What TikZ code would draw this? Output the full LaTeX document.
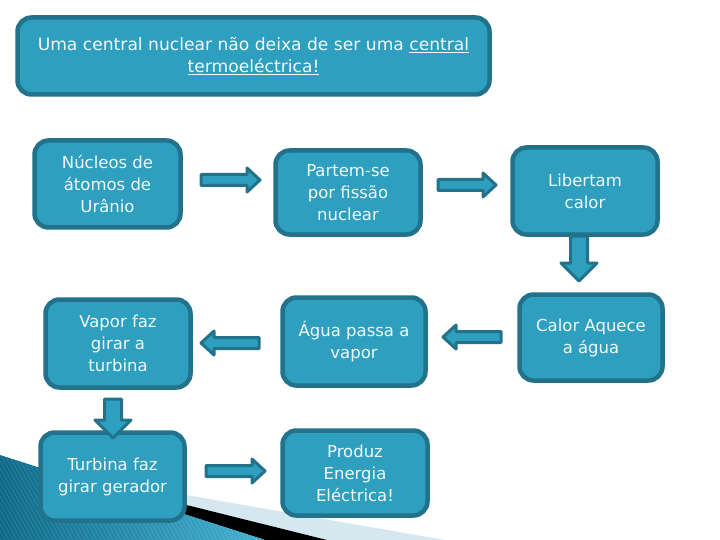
\documentclass[tikz,border=0pt]{standalone}
\usepackage{fontspec}
\setmainfont{DejaVu Sans}
\newfontfamily\condfont[FakeStretch=1.12]{DejaVu Sans Condensed}
\definecolor{boxfill}{HTML}{2E9FBF}
\definecolor{boxline}{HTML}{21728A}
\definecolor{boxtext}{HTML}{F2FAFC}
\definecolor{bgdark}{HTML}{0E6A88}
\definecolor{bglight}{HTML}{45B2D4}
\definecolor{bandlight}{HTML}{D5E7EF}
\tikzset{
  box/.style={draw=boxline, fill=boxfill, line width=4.5pt, rounded corners=14pt,
    text=boxtext, align=center, inner sep=0pt,
    font=\fontsize{16.5}{22}\selectfont},
  arr/.style={draw=boxline, fill=boxfill, line width=3pt, line join=round},
  pics/harrow/.style={code={
    \draw[arr] (0,-5.5) -- (#1-13,-5.5) -- (#1-13,-12) -- (#1,0) -- (#1-13,12)
      -- (#1-13,5.5) -- (0,5.5) -- cycle;}},
  pics/varrow/.style={code={
    \draw[arr] (0,-8.5) -- (#1-18,-8.5) -- (#1-18,-18) -- (#1,0) -- (#1-18,18)
      -- (#1-18,8.5) -- (0,8.5) -- cycle;}}
}
\begin{document}
\begin{tikzpicture}[x=1pt,y=-1pt]
\useasboundingbox (0,0) rectangle (720,540);
% background decoration
\fill[bandlight] (54,472) -- (445,540) -- (327,540) -- cycle;
\fill[black] (46,470) -- (327,540) -- (265,540) -- cycle;
\begin{scope}
  \clip (0,455) -- (265,540) -- (0,540) -- cycle;
  \shade[shading angle=60, left color=bgdark, right color=bglight] (0,450) rectangle (270,540);
  \foreach \i in {0,4,...,360} \draw[white, opacity=0.12, line width=0.7pt] (\i-60,440) -- (\i,545);
\end{scope}
% boxes
\node[box, minimum width=472pt, minimum height=77pt,
  font=\condfont\fontsize{17}{22}\selectfont] (title) at (253.5,56)
  {Uma central nuclear não deixa de ser uma \underline{central}\\\underline{termoeléctrica!}};
\node[box, minimum width=146pt, minimum height=87pt] (a) at (107.5,184) {Núcleos de\\átomos de\\Urânio};
\node[box, minimum width=145pt, minimum height=84pt] (b) at (348,192.5) {Partem-se\\por fissão\\nuclear};
\node[box, minimum width=145pt, minimum height=87pt] (c) at (585,191) {Libertam\\calor};
\node[box, minimum width=143pt, minimum height=86pt] (d) at (591,337.5) {Calor Aquece\\a água};
\node[box, minimum width=145pt, minimum height=88pt] (e) at (118,343.5) {Vapor faz\\girar a\\turbina};
\node[box, minimum width=143pt, minimum height=88pt] (f) at (354,341.5) {Água passa a\\vapor};
\node[box, minimum width=144pt, minimum height=88pt] (g) at (112.5,476.5) {Turbina faz\\girar gerador};
\node[box, minimum width=145pt, minimum height=85pt] (h) at (355,473) {Produz\\Energia\\Eléctrica!};
% block arrows
\pic at (201,180) {harrow=59};
\pic at (438,185) {harrow=58};
\pic[rotate=-90] at (579,236) {varrow=45};
\pic[rotate=180] at (501,337) {harrow=58};
\pic[rotate=180] at (259,343) {harrow=58};
\pic[rotate=-90] at (113,399) {varrow=39};
\pic at (206,471) {harrow=59};
\end{tikzpicture}
\end{document}
